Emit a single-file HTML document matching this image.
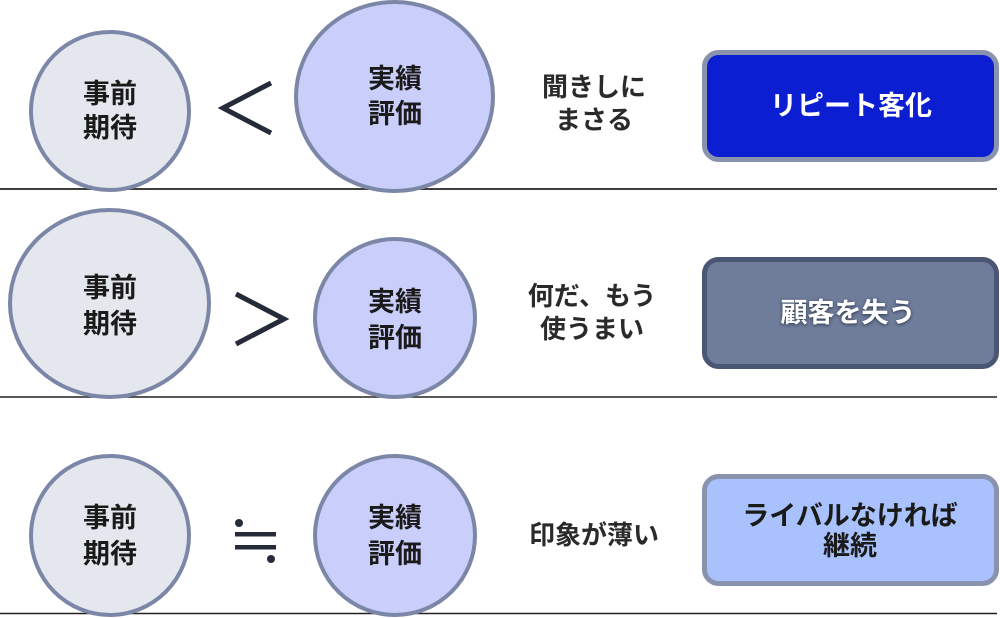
<!DOCTYPE html>
<html>
<head>
<meta charset="utf-8">
<style>
html,body{margin:0;padding:0;background:#fff;}
svg{display:block;}
text{font-family:"Liberation Sans","Noto Sans CJK JP",sans-serif;font-weight:bold;}
</style>
</head>
<body>
<svg width="1000" height="618" viewBox="0 0 1000 618" xmlns="http://www.w3.org/2000/svg">
<defs>
<filter id="sh" x="-20%" y="-50%" width="140%" height="200%">
<feDropShadow dx="0" dy="1" stdDeviation="1.5" flood-color="#1a2035" flood-opacity="0.8"/>
</filter>
</defs>
<!-- horizontal lines -->
<line x1="0" y1="189" x2="997" y2="189" stroke="#3f3f3f" stroke-width="2"/>
<line x1="0" y1="397" x2="997" y2="397" stroke="#222" stroke-width="1.5"/>
<line x1="0" y1="613.5" x2="997" y2="613.5" stroke="#222" stroke-width="1.5"/>

<!-- Row 1 -->
<ellipse cx="110" cy="111" rx="79" ry="79" fill="#e5e7ee" stroke="#7c87a8" stroke-width="4"/>
<text x="110" y="94" font-size="27" fill="#1a1a1a" text-anchor="middle" dominant-baseline="central">事前</text>
<text x="110" y="128" font-size="27" fill="#1a1a1a" text-anchor="middle" dominant-baseline="central">期待</text>
<polyline points="271,83 223,108 271,133" fill="none" stroke="#262b3a" stroke-width="5"/>
<ellipse cx="394.5" cy="96.5" rx="98.5" ry="94.5" fill="#c9cefa" stroke="#7c87a8" stroke-width="4"/>
<text x="395" y="79" font-size="27" fill="#1a1a1a" text-anchor="middle" dominant-baseline="central">実績</text>
<text x="395" y="114" font-size="27" fill="#1a1a1a" text-anchor="middle" dominant-baseline="central">評価</text>
<text x="594" y="87" font-size="26" fill="#2a2a2a" text-anchor="middle" dominant-baseline="central">聞きしに</text>
<text x="594" y="120" font-size="26" fill="#2a2a2a" text-anchor="middle" dominant-baseline="central">まさる</text>
<rect x="704.5" y="52.5" width="292" height="107" rx="14" fill="#0c1ed2" stroke="#8a93ad" stroke-width="5"/>
<text x="851" y="106" font-size="27" fill="#ffffff" text-anchor="middle" dominant-baseline="central">リピート客化</text>

<!-- Row 2 -->
<ellipse cx="109.5" cy="303.5" rx="99.5" ry="93.5" fill="#e5e7ee" stroke="#7c87a8" stroke-width="4"/>
<text x="110" y="288" font-size="27" fill="#1a1a1a" text-anchor="middle" dominant-baseline="central">事前</text>
<text x="110" y="324" font-size="27" fill="#1a1a1a" text-anchor="middle" dominant-baseline="central">期待</text>
<polyline points="236,294 284,319 236,344" fill="none" stroke="#262b3a" stroke-width="5"/>
<ellipse cx="395" cy="318" rx="80" ry="79" fill="#c9cefa" stroke="#7c87a8" stroke-width="4"/>
<text x="395" y="302" font-size="27" fill="#1a1a1a" text-anchor="middle" dominant-baseline="central">実績</text>
<text x="395" y="338" font-size="27" fill="#1a1a1a" text-anchor="middle" dominant-baseline="central">評価</text>
<text x="592" y="296" font-size="26" fill="#2a2a2a" text-anchor="middle" dominant-baseline="central">何だ、もう</text>
<text x="592" y="329" font-size="26" fill="#2a2a2a" text-anchor="middle" dominant-baseline="central">使うまい</text>
<rect x="704.5" y="259.5" width="292" height="107" rx="14" fill="#6f7c9a" stroke="#4b5675" stroke-width="5"/>
<text x="848" y="313" font-size="27" fill="#ffffff" text-anchor="middle" dominant-baseline="central" filter="url(#sh)">顧客を失う</text>

<!-- Row 3 -->
<ellipse cx="110" cy="535.5" rx="79" ry="79.5" fill="#e5e7ee" stroke="#7c87a8" stroke-width="4"/>
<text x="110" y="518" font-size="27" fill="#1a1a1a" text-anchor="middle" dominant-baseline="central">事前</text>
<text x="110" y="554" font-size="27" fill="#1a1a1a" text-anchor="middle" dominant-baseline="central">期待</text>
<rect x="235" y="532" width="41" height="4.5" fill="#262b3a"/>
<rect x="235" y="545" width="41" height="4.5" fill="#262b3a"/>
<circle cx="239" cy="523" r="4" fill="#262b3a"/>
<circle cx="271" cy="559" r="4" fill="#262b3a"/>
<ellipse cx="395" cy="535.5" rx="80" ry="79.5" fill="#c9cefa" stroke="#7c87a8" stroke-width="4"/>
<text x="395" y="518" font-size="27" fill="#1a1a1a" text-anchor="middle" dominant-baseline="central">実績</text>
<text x="395" y="554" font-size="27" fill="#1a1a1a" text-anchor="middle" dominant-baseline="central">評価</text>
<text x="594" y="535" font-size="26" fill="#2a2a2a" text-anchor="middle" dominant-baseline="central">印象が薄い</text>
<rect x="704.5" y="476.5" width="292" height="107" rx="14" fill="#a9c1fc" stroke="#8a93ad" stroke-width="5"/>
<text x="850" y="516" font-size="27" fill="#1a1a1a" text-anchor="middle" dominant-baseline="central">ライバルなければ</text>
<text x="850" y="546" font-size="27" fill="#1a1a1a" text-anchor="middle" dominant-baseline="central">継続</text>
</svg>
</body>
</html>
